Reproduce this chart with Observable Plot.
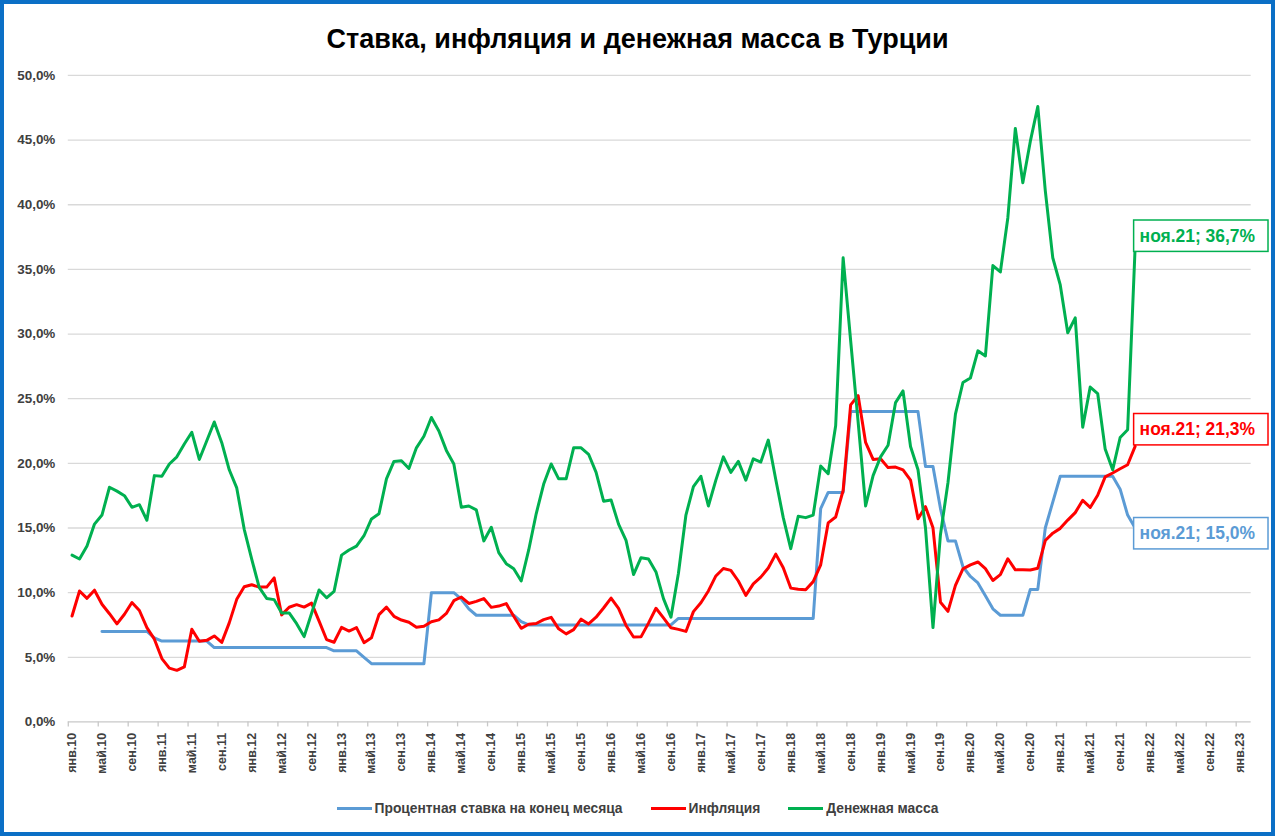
<!DOCTYPE html>
<html>
<head>
<meta charset="utf-8">
<script src="https://cdn.jsdelivr.net/npm/d3@7"></script>
<script src="https://cdn.jsdelivr.net/npm/@observablehq/plot@0.6"></script>
<style>
  html, body { margin: 0; padding: 0; background: #fff; }
  #frame { position: relative; width: 1275px; height: 836px; box-sizing: border-box; border: 4px solid #0B6FC6; overflow: hidden; background: #fff; font-family: "Liberation Sans", Arial, sans-serif; }
  #title { position: absolute; left: -4px; width: 1275px; top: 19px; text-align: center; font-weight: 700; font-size: 27px; color: #000; line-height: 32px; }
  #chart { position: absolute; left: -4px; top: 58px; }
  #legend { position: absolute; left: -4px; width: 1275px; top: 797px; display: flex; justify-content: center; align-items: center; gap: 28px; font-weight: 700; font-size: 13.8px; color: #404040; }
  .item { display: flex; align-items: center; gap: 3px; }
  .sw { width: 35px; height: 3px; }
</style>
</head>
<body>
<div id="frame">
  <div id="title">Ставка, инфляция и денежная масса в Турции</div>
  <div id="chart"></div>
  <div id="legend"></div>
</div>
<script>
// ---------- DATA (monthly, Jan 2010 .. Nov 2021) ----------
const seriesNames = ["Процентная ставка на конец месяца", "Инфляция", "Денежная масса"];
const seriesColors = ["#5B9BD5", "#FF0000", "#00B050"];

// Процентная ставка на конец месяца (null before May 2010)
const rate = [
  null, null, null, null, 7.0, 7.0, 7.0, 7.0, 7.0, 7.0, 7.0, 6.5,
  6.25, 6.25, 6.25, 6.25, 6.25, 6.25, 6.25, 5.75, 5.75, 5.75, 5.75, 5.75,
  5.75, 5.75, 5.75, 5.75, 5.75, 5.75, 5.75, 5.75, 5.75, 5.75, 5.75, 5.5,
  5.5, 5.5, 5.5, 5.0, 4.5, 4.5, 4.5, 4.5, 4.5, 4.5, 4.5, 4.5,
  10.0, 10.0, 10.0, 10.0, 9.5, 8.75, 8.25, 8.25, 8.25, 8.25, 8.25, 8.25,
  7.75, 7.5, 7.5, 7.5, 7.5, 7.5, 7.5, 7.5, 7.5, 7.5, 7.5, 7.5,
  7.5, 7.5, 7.5, 7.5, 7.5, 7.5, 7.5, 7.5, 7.5, 8.0, 8.0, 8.0,
  8.0, 8.0, 8.0, 8.0, 8.0, 8.0, 8.0, 8.0, 8.0, 8.0, 8.0, 8.0,
  8.0, 8.0, 8.0, 8.0, 16.5, 17.75, 17.75, 17.75, 24.0, 24.0, 24.0, 24.0,
  24.0, 24.0, 24.0, 24.0, 24.0, 24.0, 19.75, 19.75, 16.5, 14.0, 14.0, 12.0,
  11.25, 10.75, 9.75, 8.75, 8.25, 8.25, 8.25, 8.25, 10.25, 10.25, 15.0, 17.0,
  19.0, 19.0, 19.0, 19.0, 19.0, 19.0, 19.0, 19.0, 18.0, 16.0, 15.0
];

// Инфляция
const inflation = [
  8.19, 10.13, 9.56, 10.19, 9.10, 8.37, 7.58, 8.33, 9.24, 8.62, 7.29, 6.40,
  4.90, 4.16, 3.99, 4.26, 7.17, 6.24, 6.31, 6.65, 6.15, 7.66, 9.48, 10.45,
  10.61, 10.43, 10.43, 11.14, 8.28, 8.87, 9.07, 8.88, 9.19, 7.80, 6.37, 6.16,
  7.31, 7.03, 7.29, 6.13, 6.51, 8.30, 8.88, 8.17, 7.88, 7.71, 7.32, 7.40,
  7.75, 7.89, 8.39, 9.38, 9.66, 9.16, 9.32, 9.54, 8.86, 8.96, 9.15, 8.17,
  7.24, 7.55, 7.61, 7.91, 8.09, 7.20, 6.81, 7.14, 7.95, 7.58, 8.10, 8.81,
  9.58, 8.78, 7.46, 6.57, 6.58, 7.64, 8.79, 8.05, 7.28, 7.16, 7.00, 8.53,
  9.22, 10.13, 11.29, 11.87, 11.72, 10.90, 9.79, 10.68, 11.20, 11.90, 12.98, 11.92,
  10.35, 10.26, 10.23, 10.85, 12.15, 15.39, 15.85, 17.90, 24.52, 25.24, 21.62, 20.30,
  20.35, 19.67, 19.71, 19.50, 18.71, 15.72, 16.65, 15.01, 9.26, 8.55, 10.56, 11.84,
  12.15, 12.37, 11.86, 10.94, 11.39, 12.62, 11.76, 11.77, 11.75, 11.89, 14.03, 14.60,
  14.97, 15.61, 16.19, 17.14, 16.59, 17.53, 18.95, 19.25, 19.58, 19.89, 21.31
];

// Денежная масса
const money = [
  12.9, 12.6, 13.6, 15.3, 16.0, 18.15, 17.85, 17.5, 16.6, 16.8, 15.6, 19.05,
  19.0, 19.95, 20.5, 21.5, 22.4, 20.3, 21.75, 23.2, 21.6, 19.5, 18.1, 14.9,
  12.6, 10.4, 9.55, 9.46, 8.43, 8.43, 7.6, 6.6, 8.4, 10.2, 9.6, 10.1,
  12.9, 13.3, 13.6, 14.4, 15.7, 16.1, 18.8, 20.15, 20.2, 19.6, 21.2, 22.1,
  23.55, 22.5, 21.0, 19.95, 16.6, 16.7, 16.4, 14.0, 15.06, 13.1, 12.24, 11.85,
  10.9, 13.3, 16.1, 18.4, 19.95, 18.8, 18.8, 21.2, 21.2, 20.7, 19.3, 17.07,
  17.17, 15.3, 14.04, 11.4, 12.7, 12.6, 11.6, 9.54, 8.1, 11.5, 16.0, 18.2,
  19.0, 16.7, 18.7, 20.5, 19.3, 20.15, 18.7, 20.35, 20.1, 21.8, 18.75, 15.8,
  13.4, 15.9, 15.8, 16.0, 19.8, 19.2, 22.9, 35.9, 29.5, 23.2, 16.7, 19.05,
  20.5, 21.4, 24.7, 25.6, 21.3, 19.5, 15.0, 7.3, 14.5, 18.5, 23.8, 26.25,
  26.6, 28.7, 28.3, 35.3, 34.8, 39.0, 45.9, 41.7, 44.9, 47.6, 41.1, 35.9,
  33.8, 30.1, 31.25, 22.8, 25.9, 25.4, 21.1, 19.5, 22.0, 22.6, 36.7
];

// x tick labels (every 4 months) and y ticks
const xTickLabels = [
  "янв.10","май.10","сен.10","янв.11","май.11","сен.11","янв.12","май.12","сен.12",
  "янв.13","май.13","сен.13","янв.14","май.14","сен.14","янв.15","май.15","сен.15",
  "янв.16","май.16","сен.16","янв.17","май.17","сен.17","янв.18","май.18","сен.18",
  "янв.19","май.19","сен.19","янв.20","май.20","сен.20","янв.21","май.21","сен.21",
  "янв.22","май.22","сен.22","янв.23"
];
const yTicks = [0, 5, 10, 15, 20, 25, 30, 35, 40, 45, 50];
const lastLabelText = ["ноя.21; 15,0%", "ноя.21; 21,3%", "ноя.21; 36,7%"];
const nCategories = 158; // янв.10 .. фев.23 on the category axis

// ---------- build table ----------
const allSeries = [rate, inflation, money];
const rows = [];
allSeries.forEach((arr, si) => {
  arr.forEach((v, i) => { if (v != null) rows.push({ m: i, v, s: seriesNames[si] }); });
});

const tickPos = xTickLabels.map((_, i) => i * 4);
const fmtPct = d => d.toFixed(1).replace(".", ",") + "%";

const W = 1275, H = 737;
const plot = Plot.plot({
  width: W, height: H,
  marginLeft: 68, marginRight: 20.4, marginTop: 13, marginBottom: 75.5,
  style: { fontFamily: '"Liberation Sans", Arial, sans-serif', background: "transparent", overflow: "visible" },
  x: { type: "linear", domain: [-0.5, nCategories - 0.5], axis: null, label: null },
  y: { domain: [0, 50], axis: null, label: null },
  color: { domain: seriesNames, range: seriesColors },
  marks: [
    Plot.gridY(yTicks.filter(d => d > 0), { stroke: "#d9d9d9", strokeOpacity: 1, strokeWidth: 1.3 }),
    Plot.ruleY([0], { stroke: "#c8c8c8", strokeWidth: 1.3 }),
    Plot.axisY(yTicks, { label: null, tickSize: 0, tickPadding: 13, tickFormat: fmtPct, fontWeight: "bold", fontSize: 13.5, color: "#404040" }),
    Plot.axisX(tickPos.map(d => d - 0.5), { label: null, tickSize: 5, tickFormat: () => "", stroke: "#c8c8c8", strokeWidth: 1.3 }),
    Plot.axisX(tickPos, { label: null, tickSize: 0, tickPadding: 11, tickRotate: -90, tickFormat: (d, i) => xTickLabels[i], fontWeight: "bold", fontSize: 12.5, color: "#404040" }),
    Plot.line(rows, { x: "m", y: "v", z: "s", stroke: "s", strokeWidth: 3, strokeLinejoin: "round", strokeLinecap: "round" })
  ]
});
document.getElementById("chart").appendChild(plot);

// end-of-series data labels (boxed), positioned through the plot's scales
const xs = plot.scale("x"), ys = plot.scale("y");
const boxTop = [-10, -32.5, -27];   // box top relative to the point (px)
const svg = d3.select(plot);
const lab = svg.append("g").attr("class", "end-labels").attr("text-anchor", "start");
allSeries.forEach((arr, si) => {
  const i = arr.length - 1;
  const px = xs.apply(i), py = ys.apply(arr[i]);
  const top = py + boxTop[si];
  lab.append("rect")
    .attr("x", px - 1).attr("y", top)
    .attr("width", W - (px - 1) - 3).attr("height", 31.5)
    .attr("fill", "#fff").attr("stroke", seriesColors[si]).attr("stroke-width", 1.5);
  lab.append("text")
    .attr("x", px + 5).attr("y", top + 15.75).attr("dy", "0.36em")
    .attr("text-anchor", "start")
    .attr("fill", seriesColors[si]).attr("font-weight", "bold").attr("font-size", 17.5)
    .attr("font-family", '"Liberation Sans", Arial, sans-serif')
    .text(lastLabelText[si]);
});

// legend
const lg = document.getElementById("legend");
seriesNames.forEach((n, i) => {
  const it = document.createElement("div");
  it.className = "item";
  it.innerHTML = `<div class="sw" style="background:${seriesColors[i]}"></div><span>${n}</span>`;
  lg.appendChild(it);
});
</script>
</body>
</html>
